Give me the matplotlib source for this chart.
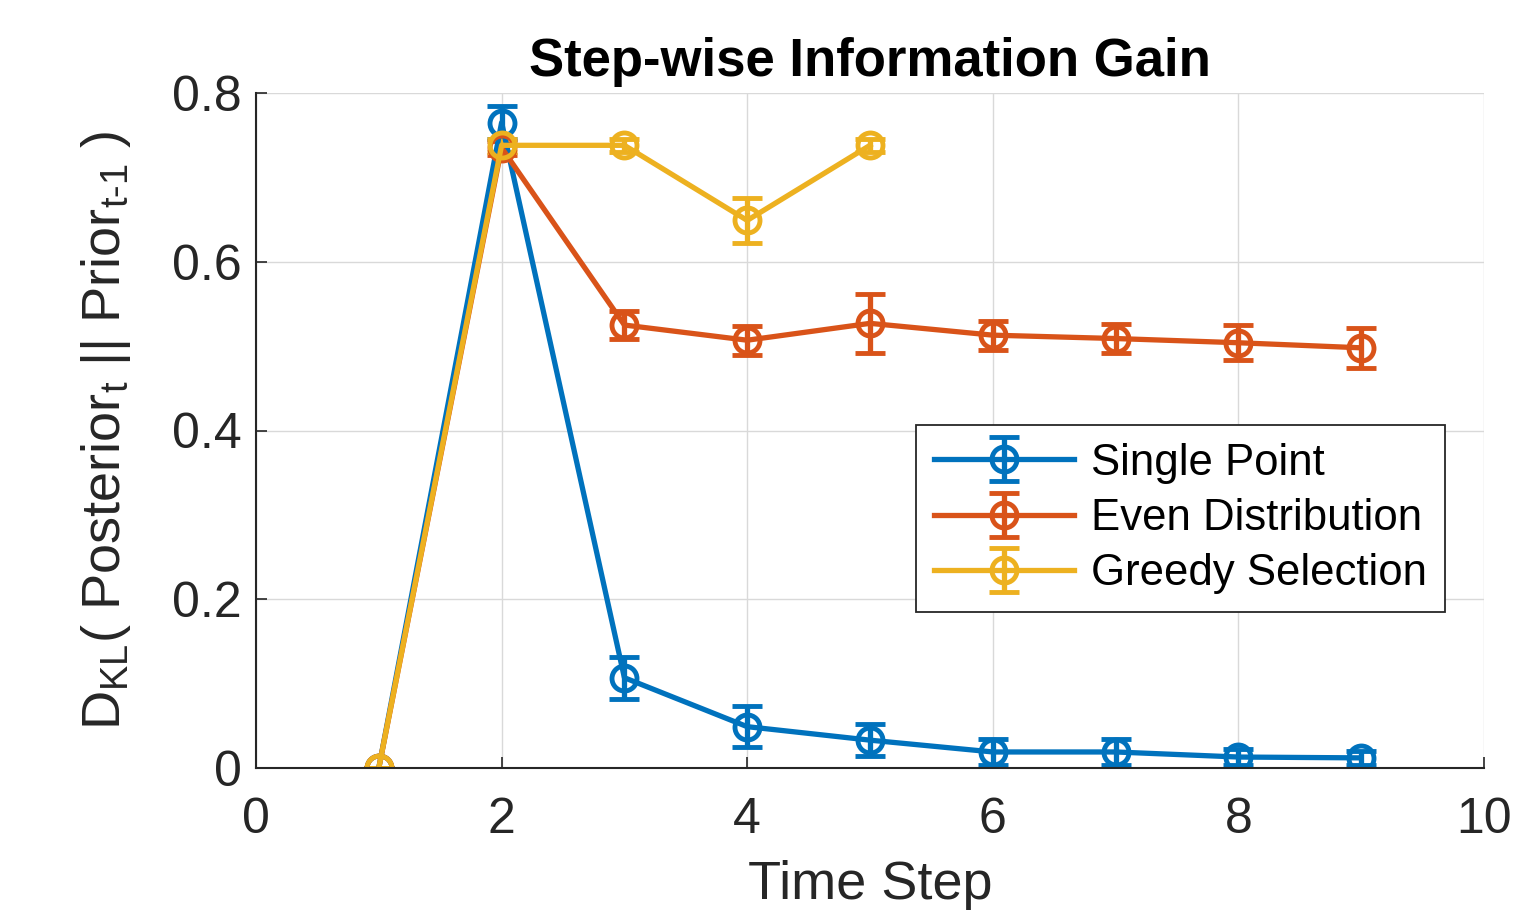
import matplotlib
matplotlib.use("Agg")
import matplotlib.pyplot as plt

plt.rcParams['font.family'] = ['Liberation Sans', 'DejaVu Sans']
plt.rcParams['mathtext.fontset'] = 'custom'
plt.rcParams['mathtext.rm'] = 'Liberation Sans'
plt.rcParams['mathtext.it'] = 'Liberation Sans'

steps = [1, 2, 3, 4, 5, 6, 7, 8, 9]
single_point = [0.0, 0.765, 0.107, 0.049, 0.033, 0.019, 0.019, 0.013, 0.012]
single_err = [0.0, 0.020, 0.025, 0.024, 0.019, 0.015, 0.015, 0.010, 0.008]
even_dist = [0.0, 0.735, 0.525, 0.507, 0.527, 0.513, 0.509, 0.504, 0.498]
even_err = [0.0, 0.008, 0.017, 0.017, 0.035, 0.017, 0.017, 0.021, 0.024]
greedy_steps = [1, 2, 3, 4, 5]
greedy = [0.0, 0.738, 0.738, 0.649, 0.738]
greedy_err = [0.0, 0.008, 0.008, 0.027, 0.008]

labels = ['Single Point', 'Even Distribution', 'Greedy Selection']
colors = ['#0072BD', '#D95319', '#EDB120']

fig = plt.figure(figsize=(15.16, 9.10), dpi=100)
ax = fig.add_axes([256/1516, 1-768/910, (1484-256)/1516, (768-93)/910])

series = [(steps, single_point, single_err), (steps, even_dist, even_err),
          (greedy_steps, greedy, greedy_err)]
for (xs, ys, es), lab, c in zip(series, labels, colors):
    ax.errorbar(xs, ys, yerr=es, color=c, lw=3.8, marker='o', ms=18,
                mfc='none', mew=3.5, capsize=11, capthick=4.5, elinewidth=3.8,
                label=lab)

ax.set_xlim(0, 10)
ax.set_ylim(0, 0.8)
ax.set_xticks([0, 2, 4, 6, 8, 10])
ax.set_yticks([0, 0.2, 0.4, 0.6, 0.8])
ax.set_yticklabels(['0', '0.2', '0.4', '0.6', '0.8'])
ax.grid(True, color='#d9d9d9', lw=1)
ax.set_axisbelow(True)
for s in ['top', 'right']:
    ax.spines[s].set_visible(False)
for s in ['left', 'bottom']:
    ax.spines[s].set_color('#262626')
    ax.spines[s].set_linewidth(1.5)
ax.tick_params(direction='in', length=8, width=1.2, labelsize=36,
               colors='#262626')
ax.tick_params(axis='x', pad=21)
ax.tick_params(axis='y', pad=10)

ax.set_title('Step-wise Information Gain', fontsize=38, fontweight='bold',
             pad=12)
ax.set_xlabel('Time Step', fontsize=39, color='#262626', labelpad=12)
ax.set_ylabel(r'D$_{\mathrm{KL}}$( Posterior$_{\mathrm{t}}$ || Prior$_{\mathrm{t}\text{-}\mathrm{1}}$ )',
              fontsize=39, color='#262626', labelpad=28)

leg = ax.legend(loc='upper right', bbox_to_anchor=(0.968, 0.508),
                borderaxespad=0, fontsize=31.5, fancybox=False,
                edgecolor='#262626', framealpha=1, handlelength=3.2,
                labelspacing=0.33, borderpad=0.4, handletextpad=0.4)
for t in leg.get_texts():
    t.set_color('black')
leg.get_frame().set_linewidth(1.3)

fig.savefig('out.png', dpi=100)
